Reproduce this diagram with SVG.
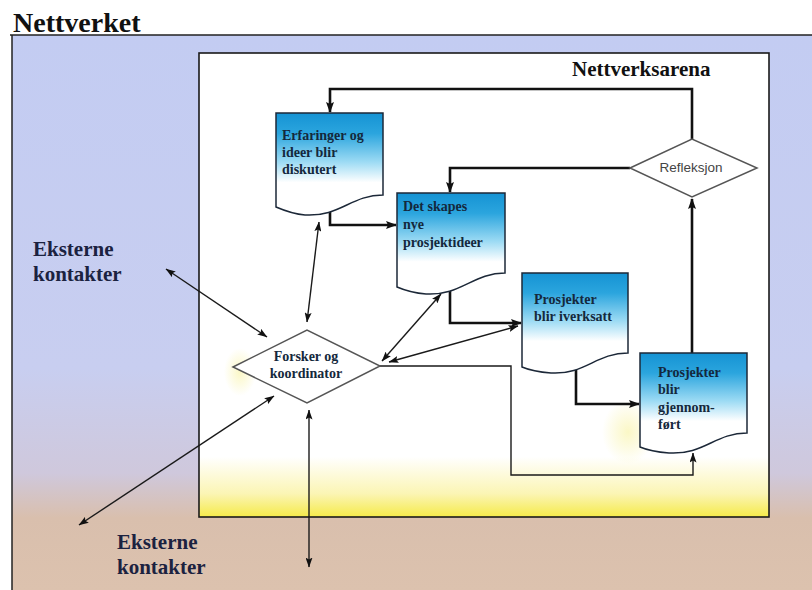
<svg xmlns="http://www.w3.org/2000/svg" width="812" height="590" viewBox="0 0 812 590">
<defs>
<linearGradient id="outerBg" x1="0" y1="35" x2="0" y2="590" gradientUnits="userSpaceOnUse">
<stop offset="0" stop-color="#c3ccf2"/>
<stop offset="0.6" stop-color="#c8cef0"/>
<stop offset="0.79" stop-color="#cfc8dc"/>
<stop offset="0.87" stop-color="#d9bfad"/>
<stop offset="1" stop-color="#dcc2ae"/>
</linearGradient>
<linearGradient id="innerBg" x1="0" y1="53" x2="0" y2="517" gradientUnits="userSpaceOnUse">
<stop offset="0" stop-color="#ffffff"/>
<stop offset="0.87" stop-color="#ffffff"/>
<stop offset="0.95" stop-color="#fbf5b4"/>
<stop offset="1" stop-color="#f5ea4a"/>
</linearGradient>
<linearGradient id="boxFill" x1="0" y1="0" x2="0" y2="1">
<stop offset="0" stop-color="#1593d4"/>
<stop offset="0.2" stop-color="#2ba5de"/>
<stop offset="0.48" stop-color="#9ddbf4"/>
<stop offset="0.68" stop-color="#ffffff"/>
<stop offset="1" stop-color="#ffffff"/>
</linearGradient>
<radialGradient id="glow" cx="0.5" cy="0.5" r="0.5">
<stop offset="0" stop-color="#f6ee80" stop-opacity="0.45"/>
<stop offset="1" stop-color="#f6ee80" stop-opacity="0"/>
</radialGradient>
<marker id="ah" markerWidth="11" markerHeight="8" refX="10" refY="4" orient="auto-start-reverse" markerUnits="userSpaceOnUse">
<path d="M0,0 L11,4 L0,8 L2,4 z" fill="#111"/>
</marker>
<marker id="ahs" markerWidth="10" markerHeight="7" refX="9.5" refY="3.5" orient="auto-start-reverse" markerUnits="userSpaceOnUse">
<path d="M0,0 L10,3.5 L0,7 L2,3.5 z" fill="#111"/>
</marker>
</defs>
<style>
.title{font-family:"Liberation Serif","DejaVu Serif",serif;font-weight:bold;fill:#111}
.ext{font-family:"Liberation Serif","DejaVu Serif",serif;font-weight:bold;font-size:21px;fill:#1b2240}
.lbl{font-family:"Liberation Serif","DejaVu Serif",serif;font-weight:bold;font-size:14px;fill:#14283c}
.doc{fill:url(#boxFill);stroke:#1c2838;stroke-width:1.5}
.dia{fill:#ffffff;stroke:#555;stroke-width:1.5}
.thick{fill:none;stroke:#111;stroke-width:2.6}
.thin{fill:none;stroke:#1a1a1a;stroke-width:1.4}
</style>

<!-- background -->
<rect x="0" y="0" width="812" height="590" fill="#ffffff"/>
<rect x="12" y="35" width="800" height="555" fill="url(#outerBg)"/>
<line x1="10" y1="35" x2="812" y2="35" stroke="#222" stroke-width="1.5"/>
<line x1="12" y1="35" x2="12" y2="590" stroke="#222" stroke-width="1.5"/>
<text class="title" x="13" y="32" font-size="28">Nettverket</text>

<g id="arena">
<rect x="199" y="53" width="570" height="464" fill="url(#innerBg)" stroke="#1a1a1a" stroke-width="1.6"/>
<ellipse cx="628" cy="432" rx="26" ry="32" fill="url(#glow)"/>
<ellipse cx="240" cy="372" rx="16" ry="24" fill="url(#glow)"/>
<text class="title" x="572" y="76" font-size="21">Nettverksarena</text>
</g>

<g id="connectors">
<path class="thick" d="M692,353 V199" marker-end="url(#ah)"/>
<path class="thick" d="M692,139 V89 H330 V112" marker-end="url(#ah)"/>
<path class="thick" d="M630,168 H450 V192" marker-end="url(#ah)"/>
<path class="thick" d="M330,212 V225 H396" marker-end="url(#ah)"/>
<path class="thick" d="M450,290 V323 H521" marker-end="url(#ah)"/>
<path class="thick" d="M576,370 V404 H639" marker-end="url(#ah)"/>
<path class="thin" d="M380,366 H511 V475 H693 V453" marker-end="url(#ahs)"/>
<path class="thin" d="M307,322 L319,222" marker-start="url(#ahs)" marker-end="url(#ahs)"/>
<path class="thin" d="M382,361 L441,294" marker-start="url(#ahs)" marker-end="url(#ahs)"/>
<path class="thin" d="M389,362 L518,326" marker-start="url(#ahs)" marker-end="url(#ahs)"/>
<path class="thin" d="M166,269 L267,337" marker-start="url(#ahs)" marker-end="url(#ahs)"/>
<path class="thin" d="M79,525 L274,396" marker-start="url(#ahs)" marker-end="url(#ahs)"/>
<path class="thin" d="M309,410 V567" marker-start="url(#ahs)" marker-end="url(#ahs)"/>
</g>

<g id="erfaringer">
<path class="doc" d="M276,113 H383 V195 C351,195 340,217 305,215 C292,214 283,210 276,207 Z"/>
<text class="lbl" x="282" y="140">Erfaringer og</text>
<text class="lbl" x="282" y="157">ideer blir</text>
<text class="lbl" x="282" y="174">diskutert</text>
</g>

<g id="det-skapes">
<path class="doc" d="M397,193 H505 V273 C473,273 461,296 426,294 C413,293 404,290 397,287 Z"/>
<text class="lbl" x="403" y="211">Det skapes</text>
<text class="lbl" x="403" y="229">nye</text>
<text class="lbl" x="403" y="247">prosjektideer</text>
</g>

<g id="iverksatt">
<path class="doc" d="M522,273 H628 V353 C596,353 585,375 551,373 C538,372 529,370 522,367 Z"/>
<text class="lbl" x="534" y="304">Prosjekter</text>
<text class="lbl" x="534" y="321">blir iverksatt</text>
</g>

<g id="gjennomfort">
<path class="doc" d="M640,353 H747 V433 C715,433 704,455 669,453 C656,452 647,450 640,447 Z"/>
<text class="lbl" x="658" y="377">Prosjekter</text>
<text class="lbl" x="658" y="394">blir</text>
<text class="lbl" x="658" y="412">gjennom-</text>
<text class="lbl" x="658" y="429">ført</text>
</g>

<g id="refleksjon">
<path class="dia" d="M630,168 L692,139 L757,168 L692,197 Z"/>
<text x="691" y="172" text-anchor="middle" font-family="Liberation Sans, Arial, sans-serif" font-size="13.5" fill="#444">Refleksjon</text>
</g>

<g id="forsker">
<path class="dia" d="M233,367 L307,330 L380,366 L307,403 Z"/>
<text class="lbl" x="306" y="361" text-anchor="middle">Forsker og</text>
<text class="lbl" x="306" y="378" text-anchor="middle">koordinator</text>
</g>

<g id="eksterne-1">
<text class="ext" x="33" y="256">Eksterne</text>
<text class="ext" x="33" y="281">kontakter</text>
</g>
<g id="eksterne-2">
<text class="ext" x="117" y="549">Eksterne</text>
<text class="ext" x="117" y="574">kontakter</text>
</g>
</svg>
